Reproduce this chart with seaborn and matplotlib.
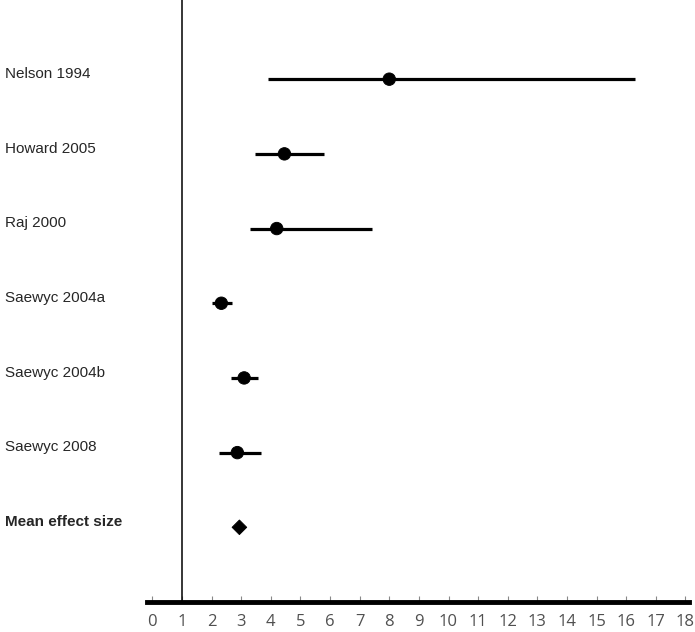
import pandas as pd
import seaborn as sns
import matplotlib.pyplot as plt
from matplotlib.transforms import blended_transform_factory

# Data
studies = ['Nelson 1994', 'Howard 2005', 'Raj 2000', 'Saewyc 2004a',
           'Saewyc 2004b', 'Saewyc 2008', 'Mean effect size']
effect = [8.0, 4.46, 4.2, 2.33, 3.1, 2.87, 2.94]
ci_low = [3.9, 3.45, 3.3, 2.0, 2.67, 2.26, 2.94]
ci_high = [16.3, 5.8, 7.4, 2.7, 3.58, 3.68, 2.94]
kind = ['study'] * 6 + ['mean']
xticks = list(range(0, 19))

df = pd.DataFrame({'study': studies, 'effect': effect, 'low': ci_low,
                   'high': ci_high, 'kind': kind})
df['row'] = range(len(df))

sns.set_style('white')
fig = plt.figure(figsize=(6.95, 6.32), dpi=100)
ax = fig.add_axes([147 / 695, 30 / 632, 542 / 695, 602 / 632])

# confidence intervals
ax.hlines(df['row'], df['low'], df['high'], color='black', linewidth=2.3, zorder=2)

sns.scatterplot(data=df, x='effect', y='row', style='kind', size='kind',
                markers={'study': 'o', 'mean': 'D'},
                sizes={'study': 80, 'mean': 55}, color='black',
                edgecolor='black', legend=False, ax=ax, zorder=3)

# reference line at 1
ax.axvline(1, color='black', linewidth=1.1, zorder=1)

ax.set_xlim(-0.18, 18.12)
ax.set_ylim(7, -1.06)
ax.set_xticks(xticks)
ax.set_xticklabels([str(t) for t in xticks], fontsize=12, color='#505050',
                   family='Open Sans')
ax.set_yticks([])
ax.set_xlabel('')
ax.set_ylabel('')
for side in ['top', 'right', 'left']:
    ax.spines[side].set_visible(False)
ax.spines['bottom'].set_linewidth(3.5)
ax.spines['bottom'].set_color('black')
ax.tick_params(axis='x', direction='in', length=4, width=0.8, color='#888888',
               pad=9, bottom=True)

# study labels on the left
trans = blended_transform_factory(fig.transFigure, ax.transData)
for i, name in enumerate(studies):
    ax.text(5 / 695, i - 0.07, name, transform=trans, ha='left', va='center',
            fontsize=11, family='Liberation Sans',
            fontweight='bold' if name == 'Mean effect size' else 'normal')

fig.savefig('out.png', dpi=100)
